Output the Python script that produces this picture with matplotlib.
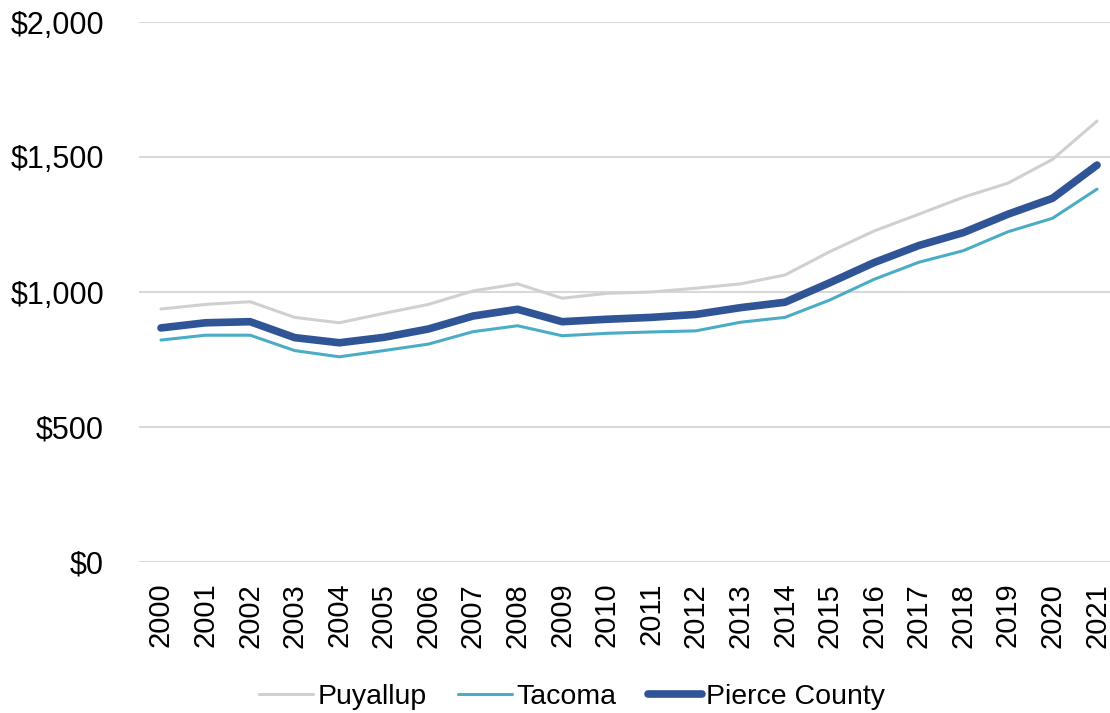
import matplotlib
matplotlib.use("Agg")
import matplotlib.pyplot as plt
from matplotlib.ticker import FuncFormatter
from matplotlib import font_manager

years = [str(y) for y in range(2000, 2022)]
puyallup = [937, 954, 964, 906, 886, 921, 954, 1004, 1030, 977, 995, 1000,
            1014, 1030, 1063, 1149, 1226, 1288, 1351, 1403, 1491, 1633]
tacoma = [822, 840, 840, 783, 760, 783, 807, 853, 875, 838, 847, 852,
          856, 888, 906, 970, 1047, 1110, 1153, 1223, 1273, 1381]
pierce = [867, 886, 890, 831, 812, 832, 863, 911, 936, 890, 899, 906,
          917, 942, 962, 1034, 1109, 1172, 1220, 1288, 1347, 1470]
y_ticks = [0, 500, 1000, 1500, 2000]

names = {f.name for f in font_manager.fontManager.ttflist}
legend_family = "Liberation Sans Narrow" if "Liberation Sans Narrow" in names else "Liberation Sans"

W, H = 1110, 713
fig = plt.figure(figsize=(W / 100, H / 100), dpi=100)
left, right = 138.7 / W, 1119.3 / W
top, bottom = 1 - 22 / H, 1 - 562 / H
ax = fig.add_axes([left, bottom, right - left, top - bottom])

x = list(range(len(years)))
ax.plot(x, puyallup, color="#d0d0d0", lw=2.2, label="Puyallup", solid_capstyle="round")
ax.plot(x, tacoma, color="#4bacc6", lw=2.2, label="Tacoma", solid_capstyle="round")
ax.plot(x, pierce, color="#2f5597", lw=5.5, label="Pierce County", solid_capstyle="round")

ax.set_xlim(-0.5, len(years) - 0.5)
ax.set_ylim(0, 2000)
ax.set_yticks(y_ticks)
ax.yaxis.set_major_formatter(FuncFormatter(lambda v, p: f"${v:,.0f}"))
ax.set_xticks(x)
ax.set_xticklabels(years, rotation=90, fontsize=21, family="Liberation Sans")
for lab in ax.get_yticklabels():
    lab.set_fontsize(22)
    lab.set_family("Liberation Sans")
ax.tick_params(axis="both", length=0, colors="#000000")
ax.tick_params(axis="y", pad=25)
ax.tick_params(axis="x", pad=15)
ax.grid(axis="y", color="#d9d9d9", lw=1.5)
ax.set_axisbelow(True)
for s in ax.spines.values():
    s.set_visible(False)

leg = fig.legend(loc="center", bbox_to_anchor=(572 / W, 1 - 697 / H), ncol=3,
                 frameon=False, handlelength=1.9, handletextpad=0.15,
                 columnspacing=1.1, prop={"family": legend_family, "size": 20.5})

fig.savefig("out.png", dpi=100)
